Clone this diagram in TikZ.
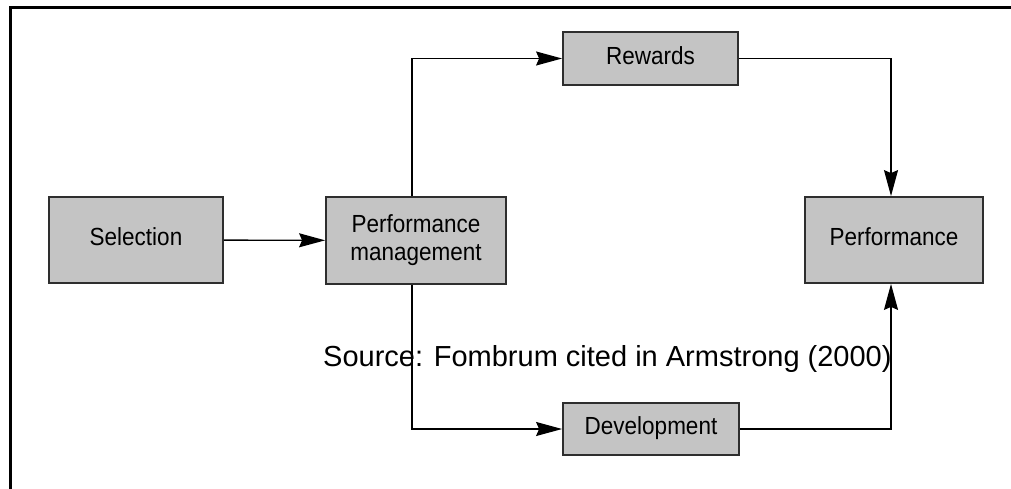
\documentclass[tikz,border=0pt]{standalone}
\usepackage{fontspec}
\usepackage{graphicx}
\setmainfont{Liberation Sans}
\usetikzlibrary{arrows.meta}
\definecolor{boxfill}{gray}{0.77}
\definecolor{boxline}{gray}{0.18}
% box labels: slightly tall sans lettering
\newcommand\stagelabel[1]{\scalebox{1}[1.1]{\begin{tabular}{@{}c@{}}#1\end{tabular}}}
\tikzset{
  stage/.style={draw=boxline, line width=1.8pt, fill=boxfill, inner sep=0pt,
    font=\fontsize{22.5}{25.5}\selectfont},
  flow/.style={draw=black, line width=1.4pt,
    -{Stealth[length=26pt, width=14pt, inset=3pt]}},
}
\begin{document}
\begin{tikzpicture}[x=1pt, y=-1pt]
\useasboundingbox (0,0) rectangle (1011,489);
\fill[white] (0,0) rectangle (1011,489);
% open frame: top and left edges only
\draw[line width=3pt, line cap=rect] (1011,8) -- (10,8) -- (10,489);

% stages
\node[stage, minimum width=174pt, minimum height=86pt] (sel) at (136,240) {\stagelabel{Selection}};
\node[stage, minimum width=180pt, minimum height=87pt] (pm) at (416,240.5) {\stagelabel{Performance\\management}};
\node[stage, minimum width=175pt, minimum height=53pt] (rew) at (650.5,58.5) {\stagelabel{Rewards}};
\node[stage, minimum width=178pt, minimum height=86pt] (perf) at (894,240) {\stagelabel{Performance}};
\node[stage, minimum width=176pt, minimum height=52pt] (dev) at (651,429) {\stagelabel{Development}};

% branch points on the performance-management and performance boxes
\coordinate (pmtop) at ([xshift=-4pt]pm.north);
\coordinate (pmbot) at ([xshift=-4pt]pm.south);
\coordinate (perftop) at ([xshift=-3pt]perf.north);
\coordinate (perfbot) at ([xshift=-3pt]perf.south);

% connectors
\draw[flow] (sel) -- (pm);
\draw[flow] (pmtop) |- (rew.west);
\draw[flow] (rew.east) -| (perftop);
\draw[flow] (pmbot) |- (dev.west);
\draw[flow] (dev.east) -| (perfbot);

% source line
\node[anchor=base west, inner sep=0pt, font=\fontsize{29}{34}\selectfont] (src) at (323,366)
  {Source: Fombrum cited in Armstrong (2000)};
\end{tikzpicture}
\end{document}
